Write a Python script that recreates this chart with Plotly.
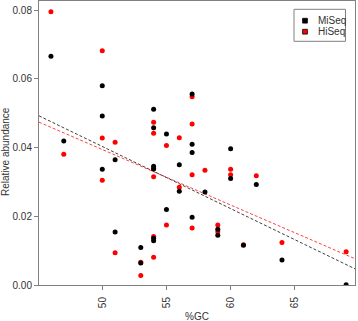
import numpy as np
import plotly.graph_objects as go

# MiSeq (black)
miseq_gc = [46, 47, 50, 50, 50, 51, 51, 53, 53, 54, 54, 54, 54, 54, 54, 55, 55, 56, 56,
            57, 57, 57, 57, 58, 59, 59, 60, 60, 61, 62, 64, 69]
miseq_ab = [0.0666, 0.0419, 0.0580, 0.0492, 0.0337, 0.0365, 0.0154, 0.0109, 0.0064,
            0.0512, 0.0458, 0.0346, 0.0338, 0.0136, 0.0129, 0.0440, 0.0220, 0.0350, 0.0273,
            0.0556, 0.0410, 0.0386, 0.0197, 0.0271, 0.0162, 0.0145, 0.0397, 0.0310,
            0.0116, 0.0293, 0.0073, 0.0001]

# HiSeq (red)
hiseq_gc = [46, 47, 50, 50, 50, 51, 51, 53, 53, 54, 54, 54, 54, 54, 54, 55, 55, 56, 56,
            57, 57, 57, 57, 58, 59, 59, 60, 60, 61, 62, 64, 69]
hiseq_ab = [0.0796, 0.0381, 0.0682, 0.0428, 0.0305, 0.0416, 0.0094, 0.0066, 0.0028,
            0.0474, 0.0442, 0.0340, 0.0315, 0.0141, 0.0081, 0.0406, 0.0175, 0.0429, 0.0285,
            0.0548, 0.0469, 0.0321, 0.0166, 0.0334, 0.0175, 0.0155, 0.0337, 0.0321,
            0.0117, 0.0318, 0.0124, 0.0097]

x_ticks = [50, 55, 60, 65]
y_ticks = [0.00, 0.02, 0.04, 0.06, 0.08]
x_range = [45.07, 69.69]
y_range = [0.0, 0.0827]
legend_labels = ["MiSeq", "HiSeq"]
colors = ["#000000", "#ff0000"]

FONT = "Liberation Sans, Arial, Helvetica, sans-serif"
W, H = 358, 321
L, R, T, B = 39, 3, 1, 36
PW, PH = W - L - R, H - T - B


def px2x(px):
    return (px - L) / PW


def py2y(py):
    return (H - B - py) / PH


fig = go.Figure()

# regression lines (fit from the data)
xs = np.array(x_range)
for gc, ab, col in [(hiseq_gc, hiseq_ab, colors[1]), (miseq_gc, miseq_ab, colors[0])]:
    m, c = np.polyfit(gc, ab, 1)
    fig.add_trace(go.Scatter(x=xs, y=m * xs + c, mode="lines",
                             line=dict(color=col, width=1, dash="3px,2px"),
                             opacity=0.75, showlegend=False, hoverinfo="skip"))

fig.add_trace(go.Scatter(x=hiseq_gc, y=hiseq_ab, mode="markers",
                         marker=dict(color=colors[1], size=5), showlegend=False))
fig.add_trace(go.Scatter(x=miseq_gc, y=miseq_ab, mode="markers",
                         marker=dict(color=colors[0], size=5), showlegend=False))

axis_common = dict(showline=True, linecolor="#808080", linewidth=1, mirror=True,
                   ticks="outside", ticklen=4, tickcolor="#808080", showgrid=False,
                   zeroline=False, tickfont=dict(family=FONT, size=10, color="#333"))

fig.update_xaxes(range=x_range, tickmode="array", tickvals=x_ticks,
                 ticktext=[str(v) for v in x_ticks], tickangle=-90,
                 ticklabelstandoff=3, **axis_common)
fig.update_yaxes(range=y_range, tickvals=y_ticks, ticktext=["%.2f" % v for v in y_ticks],
                 **axis_common)

shapes = []
annotations = []
# legend box
shapes.append(dict(type="rect", xref="paper", yref="paper",
                   x0=px2x(294), x1=px2x(345.5), y0=py2y(41.3), y1=py2y(9.3),
                   line=dict(color="#808080", width=1), fillcolor="white"))
for i, (lab, col) in enumerate(zip(legend_labels, colors)):
    cy = 20.7 + 11 * i
    shapes.append(dict(type="rect", xref="paper", yref="paper",
                       x0=px2x(302.6), x1=px2x(307.4), y0=py2y(cy + 2.4), y1=py2y(cy - 2.4),
                       line=dict(color="#000", width=0.8), fillcolor=col))
    annotations.append(dict(text=lab, xref="paper", yref="paper", x=px2x(315.5),
                            y=py2y(cy), xanchor="left", yanchor="middle", showarrow=False,
                            font=dict(family=FONT, size=10, color="#333")))

annotations.append(dict(text="%GC", xref="paper", yref="paper", x=px2x(197),
                        y=py2y(316), xanchor="center", yanchor="middle", showarrow=False,
                        font=dict(family=FONT, size=10, color="#333")))
annotations.append(dict(text="Relative abundance", xref="paper", yref="paper", x=px2x(5),
                        y=py2y(152), xanchor="center", yanchor="middle", textangle=-90,
                        showarrow=False, font=dict(family=FONT, size=10, color="#333")))

fig.update_layout(width=W, height=H, margin=dict(l=L, r=R, t=T, b=B),
                  plot_bgcolor="white", paper_bgcolor="white",
                  shapes=shapes, annotations=annotations, showlegend=False)

fig.write_html("out.html", config={"displayModeBar": False},
               post_script="document.body.style.margin='0';document.body.style.overflow='hidden';")
